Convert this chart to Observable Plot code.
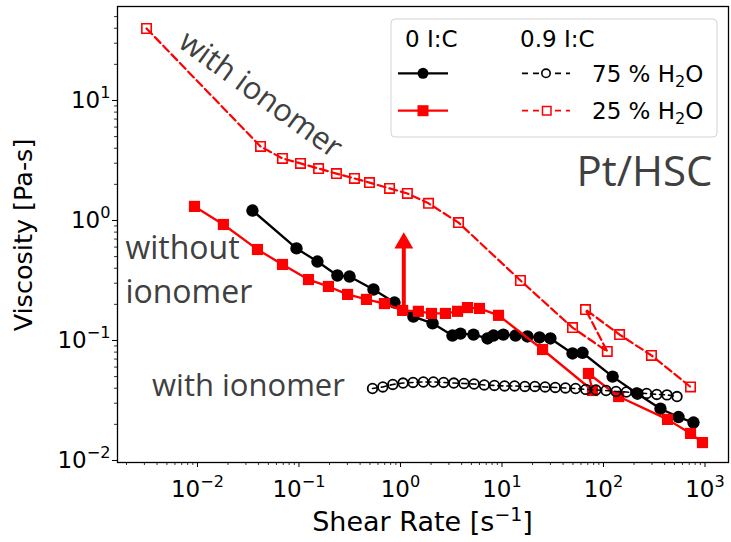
<!DOCTYPE html>
<html><head><meta charset="utf-8">
<script src="https://cdn.jsdelivr.net/npm/d3@7"></script>
<script src="https://cdn.jsdelivr.net/npm/@observablehq/plot@0.6"></script>
<style>body{margin:0;background:#fff}</style>
</head><body><div id="chart"></div>
<script>
// 0 I:C, 75 % H2O (black, solid, filled circles)
const blackSolidX = [0.0348, 0.0945, 0.152, 0.239, 0.315, 0.542, 0.873, 1.34, 2.07, 3.25, 3.9, 5.24, 7.2, 8.25, 10.3, 13.6, 17.8, 23.4, 30.0, 49.5, 62.1, 123, 216, 364, 548, 770];
const blackSolidY = [1.21, 0.585, 0.455, 0.348, 0.341, 0.266, 0.207, 0.158, 0.139, 0.110, 0.114, 0.112, 0.104, 0.110, 0.112, 0.110, 0.108, 0.106, 0.104, 0.078, 0.079, 0.050, 0.036, 0.027, 0.023, 0.0207];
// 0 I:C, 25 % H2O (red, solid, filled squares)
const redSolidX = [0.00934, 0.018, 0.039, 0.0688, 0.124, 0.195, 0.301, 0.462, 0.695, 1.05, 1.50, 2.02, 2.77, 3.65, 4.57, 6.0, 9.24, 25.1, 78, 71.1, 141, 427, 720, 944];
const redSolidY = [1.31, 0.926, 0.573, 0.430, 0.322, 0.282, 0.242, 0.220, 0.203, 0.178, 0.175, 0.168, 0.168, 0.175, 0.188, 0.185, 0.162, 0.0841, 0.0383, 0.0531, 0.0341, 0.0220, 0.0168, 0.0141];
// 0.9 I:C, 75 % H2O (black, dashed, open circles)
const blackDashX = [0.53, 0.67, 0.84, 1.06, 1.33, 1.68, 2.11, 2.66, 3.35, 4.22, 5.31, 6.69, 8.42, 10.6, 13.3, 16.8, 21.1, 26.6, 33.5, 42.2, 53.1, 66.9, 84.2, 106, 133, 168, 211, 266, 335, 422, 530];
const blackDashY = [0.0398, 0.0410, 0.0430, 0.0442, 0.0447, 0.0451, 0.0451, 0.0447, 0.0442, 0.0438, 0.0434, 0.0426, 0.0422, 0.0418, 0.0418, 0.0414, 0.0414, 0.0410, 0.0406, 0.0402, 0.0398, 0.0391, 0.0387, 0.0383, 0.0376, 0.0372, 0.0365, 0.0362, 0.0355, 0.0352, 0.0341];
// 0.9 I:C, 25 % H2O (red, dashed, open squares)
const redDashX = [0.00315, 0.0418, 0.0687, 0.1035, 0.156, 0.234, 0.352, 0.495, 0.78, 1.17, 1.89, 3.73, 15.2, 49.5, 109, 66.5, 144, 297, 720];
const redDashY = [39.8, 4.14, 3.29, 2.99, 2.71, 2.46, 2.24, 2.07, 1.85, 1.68, 1.39, 0.96, 0.316, 0.128, 0.081, 0.181, 0.112, 0.075, 0.041];

// arrow annotation (shear rate, viscosity from -> to)
const arrowX = [1.078];
const arrowFromY = [0.178];
const arrowToY = [0.619];
const arrowHeadY = [0.647];

// ticks
const xMajorTicks = [0.01, 0.1, 1, 10, 100, 1000];
const xMinorTicks = [0.002,0.003,0.004,0.005,0.006,0.007,0.008,0.009,
  0.02,0.03,0.04,0.05,0.06,0.07,0.08,0.09,
  0.2,0.3,0.4,0.5,0.6,0.7,0.8,0.9,
  2,3,4,5,6,7,8,9, 20,30,40,50,60,70,80,90, 200,300,400,500,600,700,800,900];
const yMajorTicks = [0.01, 0.1, 1, 10];
const yMinorTicks = [0.02,0.03,0.04,0.05,0.06,0.07,0.08,0.09,
  0.2,0.3,0.4,0.5,0.6,0.7,0.8,0.9, 2,3,4,5,6,7,8,9, 20,30,40,50];

// text annotations
const annoText  = ["with ionomer", "without", "ionomer", "with ionomer", "Pt/HSC"];
const annoX     = [0.0418, 0.00195, 0.00195, 0.0318, 1186];
const annoY     = [11.2, 0.58, 0.249, 0.0418, 2.53];

const zip = (xs, ys) => xs.map((x, i) => ({x, y: ys[i]}));
const blackSolid = zip(blackSolidX, blackSolidY);
const redSolid = zip(redSolidX, redSolidY);
const blackDash = zip(blackDashX, blackDashY);
const redDash = zip(redDashX, redDashY);
const annos = annoText.map((t, i) => ({t, x: annoX[i], y: annoY[i]}));
const arrow = arrowX.map((x, i) => ({x, y1: arrowFromY[i], y2: arrowToY[i], yh: arrowHeadY[i]}));

const sup = d => "10^" + String(Math.round(Math.log10(d))).replace("-", "\u2212");
const annoFont = {fontFamily: "Open Sans", fill: "#404040"};

const plot = Plot.plot({
  width: 731, height: 542,
  marginLeft: 117, marginRight: 3, marginTop: 6, marginBottom: 80,
  style: {fontFamily: "DejaVu Sans", fontSize: "23px", color: "black", background: "white", overflow: "visible"},
  x: {type: "log", domain: [0.00163, 1704]},
  y: {type: "log", domain: [0.00962, 60.7]},
  marks: [
    Plot.axisX({ticks: xMinorTicks, tickSize: 3, tickFormat: () => "", label: null, strokeWidth: 0.8}),
    Plot.axisX({ticks: xMajorTicks, tickSize: 5, tickPadding: 13, tickFormat: sup, label: null, fontSize: 23, strokeWidth: 1}),
    Plot.axisY({ticks: yMinorTicks, tickSize: 3, tickFormat: () => "", label: null, strokeWidth: 0.8}),
    Plot.axisY({ticks: yMajorTicks, tickSize: 5, tickPadding: 2, tickFormat: sup, label: null, fontSize: 23, strokeWidth: 1}),
    Plot.frame({stroke: "black", strokeWidth: 1.3}),
    // 0.9 I:C 25% dashed red
    Plot.line(redDash, {x: "x", y: "y", stroke: "red", strokeWidth: 2.2, strokeDasharray: "8,4"}),
    Plot.dot(redDash, {x: "x", y: "y", symbol: "square", r: 5.3, fill: "none", stroke: "red", strokeWidth: 1.6}),
    // 0 I:C 75% black solid
    Plot.line(blackSolid, {x: "x", y: "y", stroke: "black", strokeWidth: 2.3}),
    Plot.dot(blackSolid, {x: "x", y: "y", symbol: "circle", r: 6.2, fill: "black"}),
    // 0 I:C 25% red solid
    Plot.line(redSolid, {x: "x", y: "y", stroke: "red", strokeWidth: 2.3}),
    Plot.dot(redSolid, {x: "x", y: "y", symbol: "square", r: 6.3, fill: "red"}),
    // 0.9 I:C 75% black dashed open circles
    Plot.line(blackDash, {x: "x", y: "y", stroke: "black", strokeWidth: 1.6, strokeDasharray: "5,4"}),
    Plot.dot(blackDash, {x: "x", y: "y", symbol: "circle", r: 4.8, fill: "none", stroke: "black", strokeWidth: 1.8}),
    // arrow
    Plot.ruleX(arrow, {x: "x", y1: "y1", y2: "y2", stroke: "red", strokeWidth: 4}),
    Plot.dot(arrow, {x: "x", y: "yh", symbol: "triangle", r: 7, fill: "red"}),
    // annotations
    Plot.text([annos[0]], {x: "x", y: "y", text: "t", rotate: 36, fontSize: 31, ...annoFont}),
    Plot.text([annos[1], annos[2]], {x: "x", y: "y", text: "t", textAnchor: "start", fontSize: 32, ...annoFont}),
    Plot.text([annos[3]], {x: "x", y: "y", text: "t", fontSize: 31, ...annoFont}),
    Plot.text([annos[4]], {x: "x", y: "y", text: "t", textAnchor: "end", fontSize: 42, ...annoFont})
  ]
});

document.getElementById("chart").appendChild(plot);
const svg = d3.select(plot);

// superscript tick labels
svg.selectAll("text").each(function() {
  const m = /^10\^(\u2212?\d+)$/.exec(this.textContent);
  if (m) {
    this.textContent = "10";
    d3.select(this).append("tspan").attr("dy", "-0.6em").attr("font-size", "0.7em").text(m[1]);
  }
});

// axis labels
svg.append("text").attr("transform", "translate(32,235) rotate(-90)")
  .attr("text-anchor", "middle").attr("font-size", 25.5).attr("fill", "black").text("Viscosity [Pa-s]");
const xl = svg.append("text").attr("x", 422.5).attr("y", 531).attr("text-anchor", "middle")
  .attr("font-size", 27).attr("fill", "black");
xl.append("tspan").text("Shear Rate [s");
xl.append("tspan").attr("dy", "-0.55em").attr("font-size", "0.7em").text("\u22121");
xl.append("tspan").attr("dy", "0.385em").text("]");

// legend
const lg = svg.append("g").attr("font-size", 23).attr("fill", "black").attr("text-anchor", "start");
lg.append("rect").attr("x", 391).attr("y", 19).attr("width", 326).attr("height", 118).attr("rx", 4)
  .attr("fill", "white").attr("fill-opacity", 0.85).attr("stroke", "#d3d3d3").attr("stroke-width", 1);
lg.append("text").attr("text-anchor", "start").attr("x", 405).attr("y", 47).text("0 I:C");
lg.append("text").attr("text-anchor", "start").attr("x", 520).attr("y", 47).text("0.9 I:C");
// row 1
lg.append("line").attr("x1", 398).attr("x2", 448).attr("y1", 73.3).attr("y2", 73.3).attr("stroke", "black").attr("stroke-width", 2.3);
lg.append("circle").attr("cx", 423).attr("cy", 73.3).attr("r", 5.5).attr("fill", "black");
lg.append("line").attr("x1", 522).attr("x2", 570).attr("y1", 73.3).attr("y2", 73.3).attr("stroke", "black").attr("stroke-width", 1.7).attr("stroke-dasharray", "6,5");
lg.append("circle").attr("cx", 546).attr("cy", 73.3).attr("r", 4.2).attr("fill", "white").attr("stroke", "black").attr("stroke-width", 1.6);
const t1 = lg.append("text").attr("text-anchor", "start").attr("x", 592).attr("y", 82);
t1.append("tspan").text("75 % H");
t1.append("tspan").attr("dy", "0.3em").attr("font-size", "0.7em").text("2");
t1.append("tspan").attr("dy", "-0.21em").text("O");
// row 2
lg.append("line").attr("x1", 398).attr("x2", 448).attr("y1", 110.7).attr("y2", 110.7).attr("stroke", "red").attr("stroke-width", 2.3);
lg.append("rect").attr("x", 417.5).attr("y", 105.2).attr("width", 11).attr("height", 11).attr("fill", "red");
lg.append("line").attr("x1", 522).attr("x2", 570).attr("y1", 110.7).attr("y2", 110.7).attr("stroke", "red").attr("stroke-width", 1.7).attr("stroke-dasharray", "6,5");
lg.append("rect").attr("x", 542.5).attr("y", 106.5).attr("width", 8.5).attr("height", 8.5).attr("fill", "white").attr("stroke", "red").attr("stroke-width", 1.5);
const t2 = lg.append("text").attr("text-anchor", "start").attr("x", 592).attr("y", 119);
t2.append("tspan").text("25 % H");
t2.append("tspan").attr("dy", "0.3em").attr("font-size", "0.7em").text("2");
t2.append("tspan").attr("dy", "-0.21em").text("O");
</script></body></html>
